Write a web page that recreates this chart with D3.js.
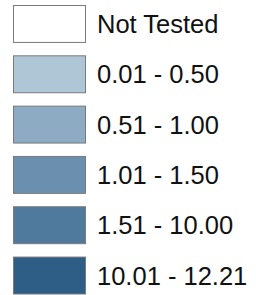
<!DOCTYPE html>
<html>
<head>
<meta charset="utf-8">
<script src="https://cdn.jsdelivr.net/npm/d3@7"></script>
<style>
  html, body { margin: 0; padding: 0; background: #fff; }
  svg { display: block; }
</style>
</head>
<body>
<div id="chart"></div>
<script>
const labels = ['Not Tested', '0.01 - 0.50', '0.51 - 1.00', '1.01 - 1.50', '1.51 - 10.00', '10.01 - 12.21']
const colors = ['#ffffff', '#afc6d6', '#8dacc3', '#6b8fae', '#4f7a9d', '#2e5e85']

const width = 256
const height = 295

const svg = d3.select('#chart')
  .append('svg')
  .attr('width', width)
  .attr('height', height)

const y = d3.scaleBand()
  .domain(labels)
  .range([5.5, 294])
  .paddingInner(0.266)
  .paddingOuter(0)

const row = svg.selectAll('g.row')
  .data(labels)
  .join('g')
  .attr('class', 'row')
  .attr('transform', d => `translate(0,${y(d)})`)

row.append('rect')
  .attr('x', 13.5)
  .attr('width', 72)
  .attr('height', y.bandwidth())
  .attr('fill', (d, i) => colors[i])
  .attr('stroke', '#7a7a7a')
  .attr('stroke-width', 1)

row.append('text')
  .attr('x', 97)
  .attr('y', y.bandwidth() / 2)
  .attr('dy', '0.36em')
  .attr('font-family', 'Liberation Sans, Arial, sans-serif')
  .attr('font-size', 25.5)
  .attr('fill', '#111')
  .text(d => d)
</script>
</body>
</html>
